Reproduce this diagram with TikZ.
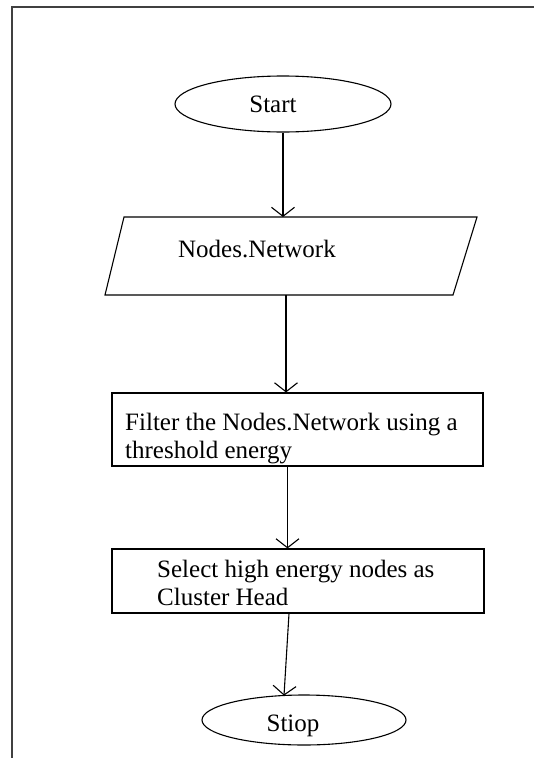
\documentclass[tikz,border=0pt]{standalone}
\usepackage{fontspec}
\setmainfont{Liberation Serif}
\usetikzlibrary{shapes.geometric,arrows.meta}
\begin{document}
\begin{tikzpicture}[x=1pt,y=-1pt,
  shp/.style={draw=black,line width=1.1pt},
  txt/.style={font=\fontsize{25}{28}\selectfont, inner sep=0pt, align=left, text=black},
  arr/.style={draw=black,line width=1.1pt,-{Straight Barb[length=9pt,width=23pt,line width=1.1pt]}}]
\useasboundingbox (0,0) rectangle (534,758);
% page frame
\draw[line width=2pt, draw=black!75] (12,758) -- (12,7) -- (534,7);
% start
\node[shp, ellipse, minimum width=216pt, minimum height=56pt, inner sep=0pt] (start) at (283,104) {};
\node[txt, anchor=base] (starttxt) at (273,112) {Start};
% input parallelogram
\draw[shp] (124,217) -- (477,217) -- (453,295) -- (105,295) -- cycle;
\coordinate (pin) at (283,217);
\coordinate (pout) at (286,295);
\node[txt, anchor=base] (net) at (257,257) {Nodes.Network};
% filter box
\node[shp, rectangle, minimum width=371pt, minimum height=73pt, inner sep=0pt] (box1) at (297.5,429.5) {};
\node[txt, anchor=north west] (box1txt) at (125,413) {Filter the Nodes.Network using a\\threshold energy};
% select box
\node[shp, rectangle, minimum width=372pt, minimum height=64pt, inner sep=0pt] (box2) at (298,581) {};
\node[txt, anchor=north west] (box2txt) at (157,560) {Select high energy nodes as\\Cluster Head};
% stop
\node[shp, ellipse, minimum width=204pt, minimum height=50pt, inner sep=0pt] (stop) at (304,720) {};
\node[txt, anchor=base] (stoptxt) at (293,731) {Stiop};
\coordinate (stopin) at (284,695.6);
% connectors
\draw[arr] (start.south) -- (pin);
\draw[arr] (pout) -- (pout |- box1.north);
\draw[arr] ([xshift=-10pt]box1.south) -- ([xshift=-10pt]box1.south |- box2.north);
\draw[arr] ([xshift=-9pt]box2.south) -- (stopin);
\end{tikzpicture}
\end{document}
